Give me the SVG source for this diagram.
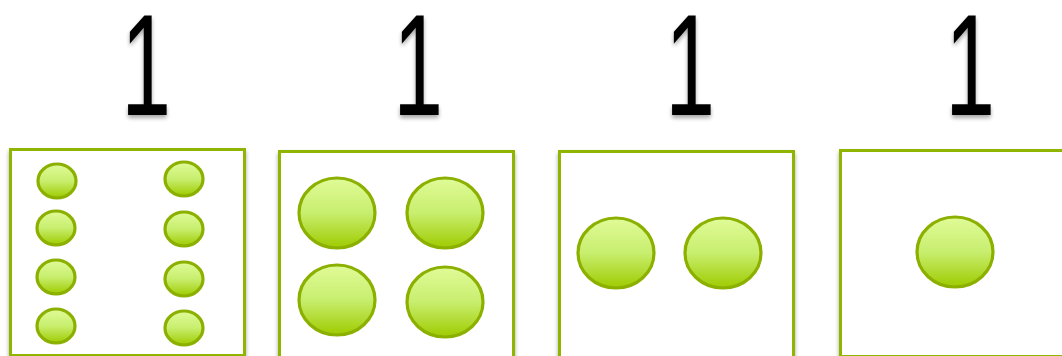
<svg xmlns="http://www.w3.org/2000/svg" width="1062" height="356" viewBox="0 0 1062 356">
<defs>
<linearGradient id="g" x1="0" y1="0" x2="0" y2="1">
<stop offset="0" stop-color="#e0fb98"/>
<stop offset="0.5" stop-color="#c8ee6e"/>
<stop offset="1" stop-color="#9ecb00"/>
</linearGradient>
<filter id="sh" x="-20%" y="-20%" width="140%" height="150%">
<feGaussianBlur in="SourceAlpha" stdDeviation="2"/>
<feOffset dx="0" dy="3" result="b"/>
<feComponentTransfer><feFuncA type="linear" slope="0.35"/></feComponentTransfer>
<feMerge><feMergeNode/><feMergeNode in="SourceGraphic"/></feMerge>
</filter>
</defs>
<style>
.box{fill:#ffffff;stroke:#8fb500;stroke-width:3}
.dot{fill:url(#g);stroke:#8cb000;stroke-width:3.2}
.num{font-family:"Liberation Sans",Arial,sans-serif;font-size:126px;fill:#000;text-anchor:middle}
</style>
<rect width="1062" height="356" fill="#ffffff"/>
<g id="labels" filter="url(#sh)">
<text class="num" transform="translate(146,115) scale(0.71,1.143)" x="0" y="0">1</text>
<text class="num" transform="translate(418,115) scale(0.71,1.143)" x="0" y="0">1</text>
<text class="num" transform="translate(690,115) scale(0.71,1.143)" x="0" y="0">1</text>
<text class="num" transform="translate(970,115) scale(0.71,1.143)" x="0" y="0">1</text>
</g>
<g id="node1" filter="url(#sh)">
<rect class="box" x="10.5" y="149.5" width="234" height="206"/>
<ellipse class="dot" cx="57" cy="181" rx="19" ry="17"/>
<ellipse class="dot" cx="56" cy="228" rx="19" ry="17"/>
<ellipse class="dot" cx="56" cy="277" rx="19" ry="17"/>
<ellipse class="dot" cx="56" cy="326" rx="19" ry="17"/>
<ellipse class="dot" cx="184" cy="179" rx="19" ry="17"/>
<ellipse class="dot" cx="184" cy="229" rx="19" ry="17"/>
<ellipse class="dot" cx="184" cy="279" rx="19" ry="17"/>
<ellipse class="dot" cx="184" cy="328" rx="19" ry="17"/>
</g>
<g id="node2" filter="url(#sh)">
<rect class="box" x="279.5" y="151.5" width="234" height="206"/>
<ellipse class="dot" cx="337" cy="213" rx="38" ry="35"/>
<ellipse class="dot" cx="445" cy="213" rx="38" ry="35"/>
<ellipse class="dot" cx="337" cy="300" rx="38" ry="35"/>
<ellipse class="dot" cx="445" cy="302" rx="38" ry="35"/>
</g>
<g id="node3" filter="url(#sh)">
<rect class="box" x="559.5" y="151.5" width="234" height="206"/>
<ellipse class="dot" cx="616" cy="253" rx="38" ry="35"/>
<ellipse class="dot" cx="723" cy="253" rx="38" ry="35"/>
</g>
<g id="node4" filter="url(#sh)">
<rect class="box" x="840.5" y="150.5" width="234" height="206"/>
<ellipse class="dot" cx="955" cy="252" rx="38" ry="35"/>
</g>
</svg>
